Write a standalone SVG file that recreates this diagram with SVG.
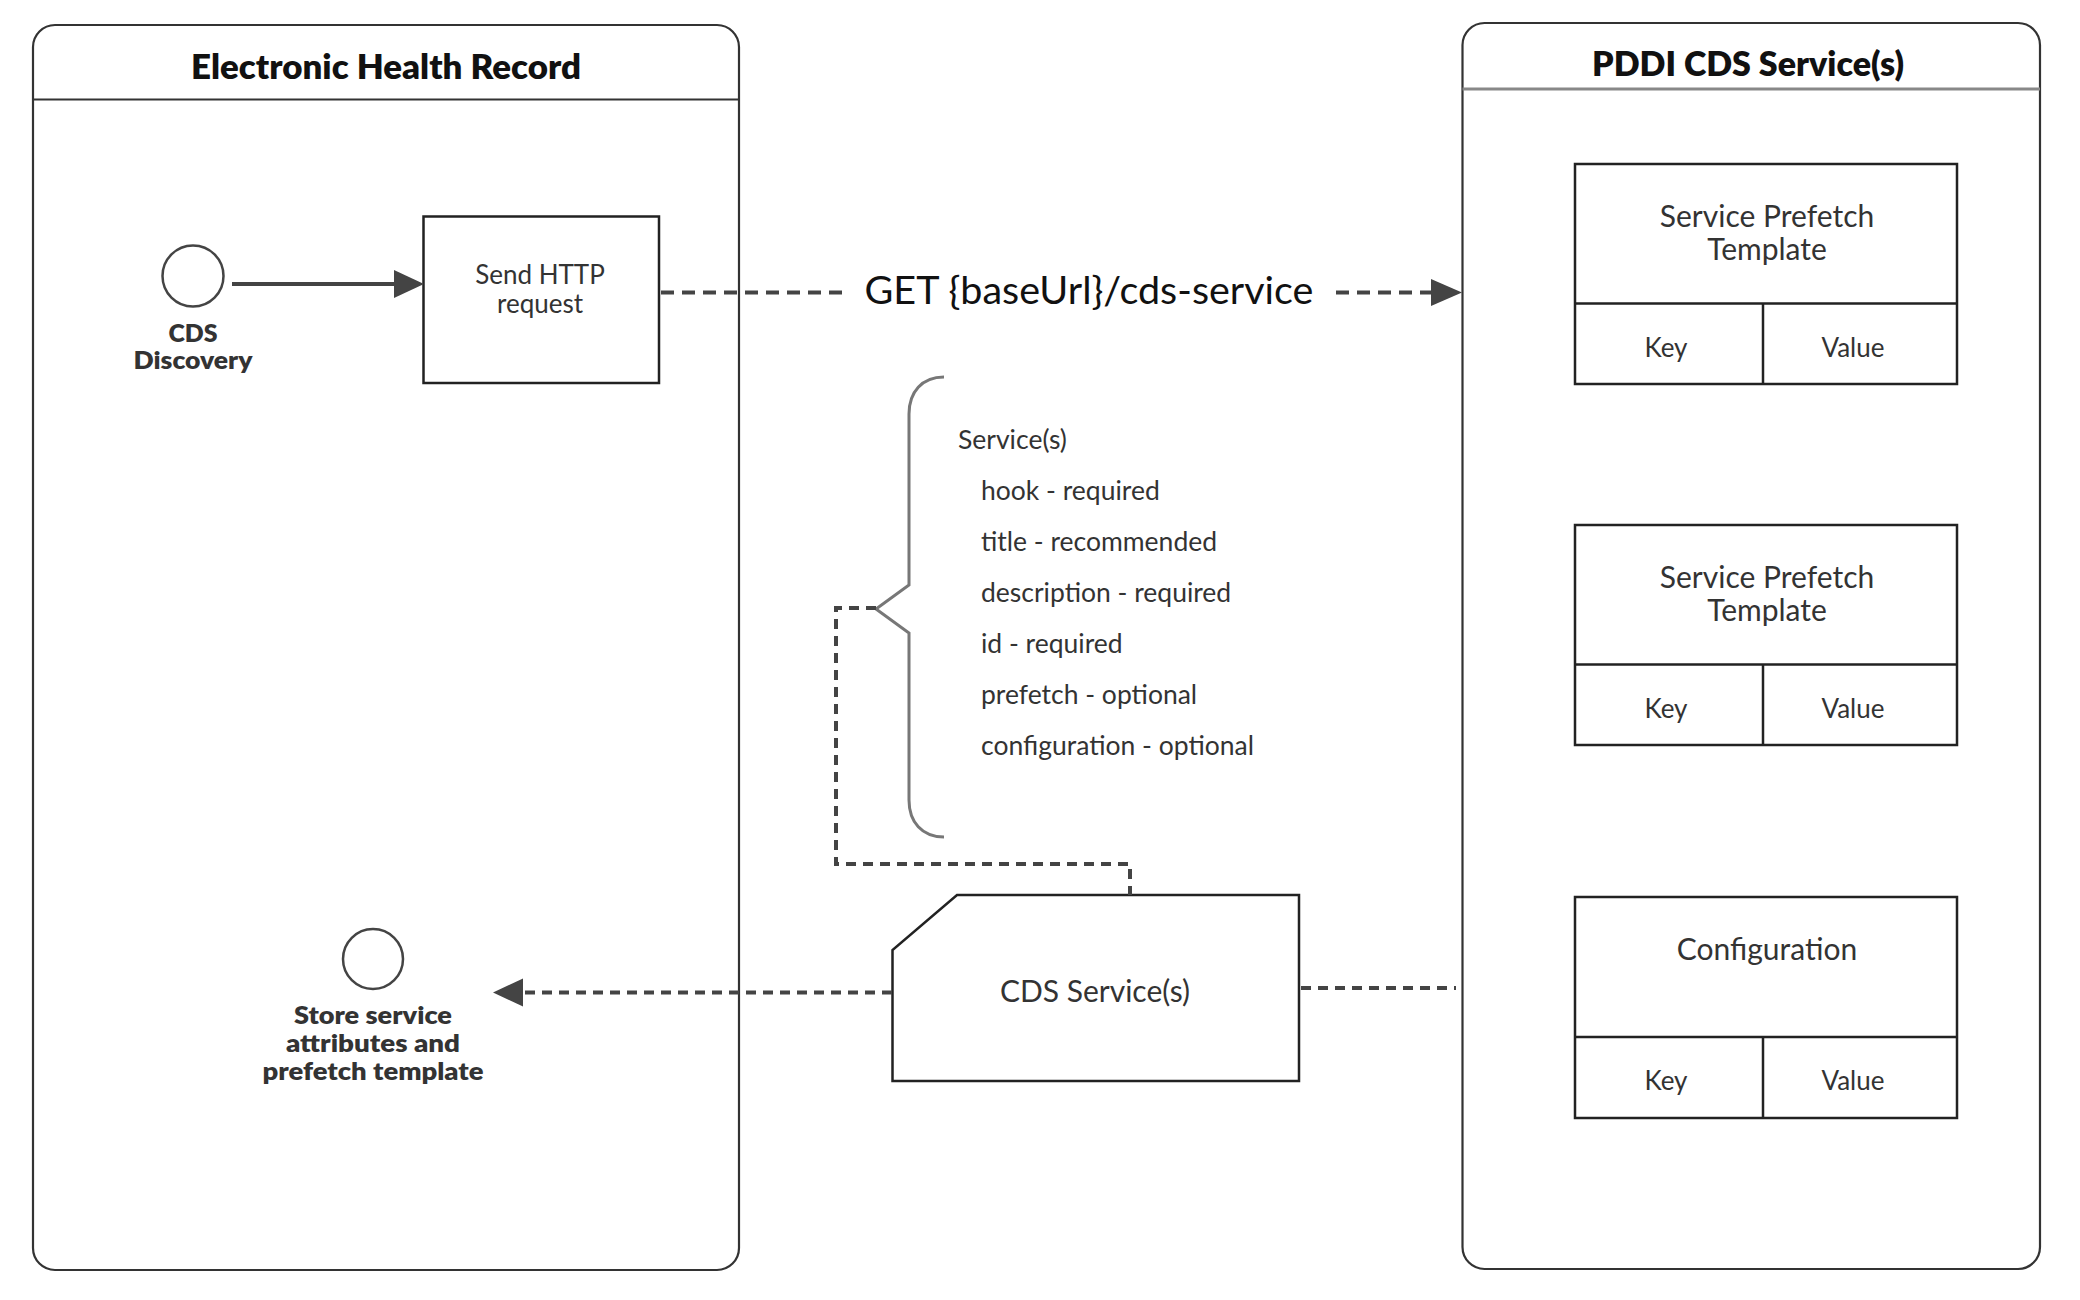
<svg xmlns="http://www.w3.org/2000/svg" width="2080" height="1300" viewBox="0 0 2080 1300">
  <style>
    .panel { fill: #ffffff; stroke: #333333; stroke-width: 2.2; }
    .title { font-family: Lato, "Liberation Sans", sans-serif; font-weight: 800; font-size: 34px; fill: #111111; text-anchor: middle; }
    .lbl { font-family: Lato, "Liberation Sans", sans-serif; font-weight: 800; font-size: 25px; fill: #333333; text-anchor: middle; }
    .txt { font-family: Lato, "Liberation Sans", sans-serif; font-size: 28px; fill: #333333; text-anchor: middle; }
    .list { font-family: Lato, "Liberation Sans", sans-serif; font-size: 26.5px; fill: #333333; }
    .box { fill: #ffffff; stroke: #222222; stroke-width: 2.5; }
    .evt { fill: #ffffff; stroke: #444444; stroke-width: 2.5; }
    .solid { fill: none; stroke: #444444; stroke-width: 4; }
    .dash { fill: none; stroke: #444444; stroke-width: 4; stroke-dasharray: 10 7; }
    .dashl { fill: none; stroke: #444444; stroke-width: 4; stroke-dasharray: 13 8; }
    .head { fill: #444444; }
  </style>

  <g id="ehr-panel">
    <rect class="panel" x="33" y="25" width="706" height="1245" rx="22" ry="22"/>
    <line x1="33" y1="99.5" x2="739" y2="99.5" stroke="#333333" stroke-width="2.2"/>
    <text class="title" x="386" y="79" textLength="390" lengthAdjust="spacingAndGlyphs">Electronic Health Record</text>
  </g>

  <g id="pddi-panel">
    <rect class="panel" x="1462.5" y="23" width="577.5" height="1246" rx="22" ry="22"/>
    <line x1="1462.5" y1="89" x2="2040" y2="89" stroke="#888888" stroke-width="3"/>
    <text class="title" x="1748" y="76" textLength="312" lengthAdjust="spacingAndGlyphs">PDDI CDS Service(s)</text>
  </g>

  <g id="cds-discovery">
    <circle class="evt" cx="193" cy="276" r="30.5"/>
    <text class="lbl" x="193" y="342" textLength="49" lengthAdjust="spacingAndGlyphs">CDS</text>
    <text class="lbl" x="193" y="369" textLength="119" lengthAdjust="spacingAndGlyphs">Discovery</text>
  </g>

  <g id="send-http">
    <rect class="box" x="423.5" y="216.5" width="235.5" height="166.5"/>
    <text class="txt" x="540" y="284" style="font-size:26px">Send HTTP</text>
    <text class="txt" x="540" y="313" style="font-size:26px">request</text>
  </g>

  <g id="store-service">
    <circle class="evt" cx="373" cy="959" r="30"/>
    <text class="lbl" x="373" y="1024" textLength="158" lengthAdjust="spacingAndGlyphs">Store service</text>
    <text class="lbl" x="373" y="1052" textLength="174" lengthAdjust="spacingAndGlyphs">attributes and</text>
    <text class="lbl" x="373" y="1080" textLength="221" lengthAdjust="spacingAndGlyphs">prefetch template</text>
  </g>

  <g id="service-list">
    <path d="M944,377 C922,377 909,392 909,414 L909,585 L876,609 L909,633 L909,800 C909,822 922,837 944,837" fill="none" stroke="#777777" stroke-width="3"/>
    <text class="list" x="958" y="449">Service(s)</text>
    <text class="list" x="981" y="500">hook - required</text>
    <text class="list" x="981" y="551">title - recommended</text>
    <text class="list" x="981" y="602">description - required</text>
    <text class="list" x="981" y="653">id - required</text>
    <text class="list" x="981" y="704">prefetch - optional</text>
    <text class="list" x="981" y="755">configuration - optional</text>
  </g>

  <g id="cds-services-doc">
    <path class="box" d="M957,895 L1299,895 L1299,1081 L892.5,1081 L892.5,950 Z"/>
    <text class="txt" x="1095" y="1002" style="font-size:30px">CDS Service(s)</text>
  </g>

  <g id="prefetch-template-1">
    <rect class="box" x="1575" y="164" width="382" height="220"/>
    <line x1="1575" y1="303.5" x2="1957" y2="303.5" stroke="#222222" stroke-width="2.5"/>
    <line x1="1763" y1="303.5" x2="1763" y2="384" stroke="#222222" stroke-width="2.5"/>
    <text class="txt" x="1767" y="227" style="font-size:30px">Service Prefetch</text>
    <text class="txt" x="1767" y="260" style="font-size:30px">Template</text>
    <text class="txt" x="1666" y="357" style="font-size:26px">Key</text>
    <text class="txt" x="1853" y="357" style="font-size:26px">Value</text>
  </g>

  <g id="prefetch-template-2">
    <rect class="box" x="1575" y="525" width="382" height="220"/>
    <line x1="1575" y1="664.5" x2="1957" y2="664.5" stroke="#222222" stroke-width="2.5"/>
    <line x1="1763" y1="664.5" x2="1763" y2="745" stroke="#222222" stroke-width="2.5"/>
    <text class="txt" x="1767" y="588" style="font-size:30px">Service Prefetch</text>
    <text class="txt" x="1767" y="621" style="font-size:30px">Template</text>
    <text class="txt" x="1666" y="718" style="font-size:26px">Key</text>
    <text class="txt" x="1853" y="718" style="font-size:26px">Value</text>
  </g>

  <g id="configuration">
    <rect class="box" x="1575" y="897" width="382" height="221"/>
    <line x1="1575" y1="1037" x2="1957" y2="1037" stroke="#222222" stroke-width="2.5"/>
    <line x1="1763" y1="1037" x2="1763" y2="1118" stroke="#222222" stroke-width="2.5"/>
    <text class="txt" x="1767" y="960" style="font-size:30px">Configuration</text>
    <text class="txt" x="1666" y="1090" style="font-size:26px">Key</text>
    <text class="txt" x="1853" y="1090" style="font-size:26px">Value</text>
  </g>

  <g id="connectors">
    <line class="solid" x1="232" y1="284" x2="396" y2="284"/>
    <polygon class="head" points="424,284 394,270 394,298"/>

    <line class="dashl" x1="661" y1="292.5" x2="849" y2="292.5"/>
    <text x="1089" y="304" style="font-family: Lato, 'Liberation Sans', sans-serif; font-size: 39.5px; fill: #111111; text-anchor: middle;">GET {baseUrl}/cds-service</text>
    <line class="dashl" x1="1336" y1="292.5" x2="1432" y2="292.5"/>
    <polygon class="head" points="1462,292.5 1431,279 1431,306"/>

    <path class="dash" d="M876,608 L836,608 L836,864 L1130,864 L1130,895"/>

    <line class="dash" x1="892" y1="992.5" x2="522" y2="992.5"/>
    <polygon class="head" points="493,992.5 523,978.5 523,1006.5"/>

    <line class="dash" x1="1301" y1="988" x2="1456" y2="988"/>
  </g>
</svg>
